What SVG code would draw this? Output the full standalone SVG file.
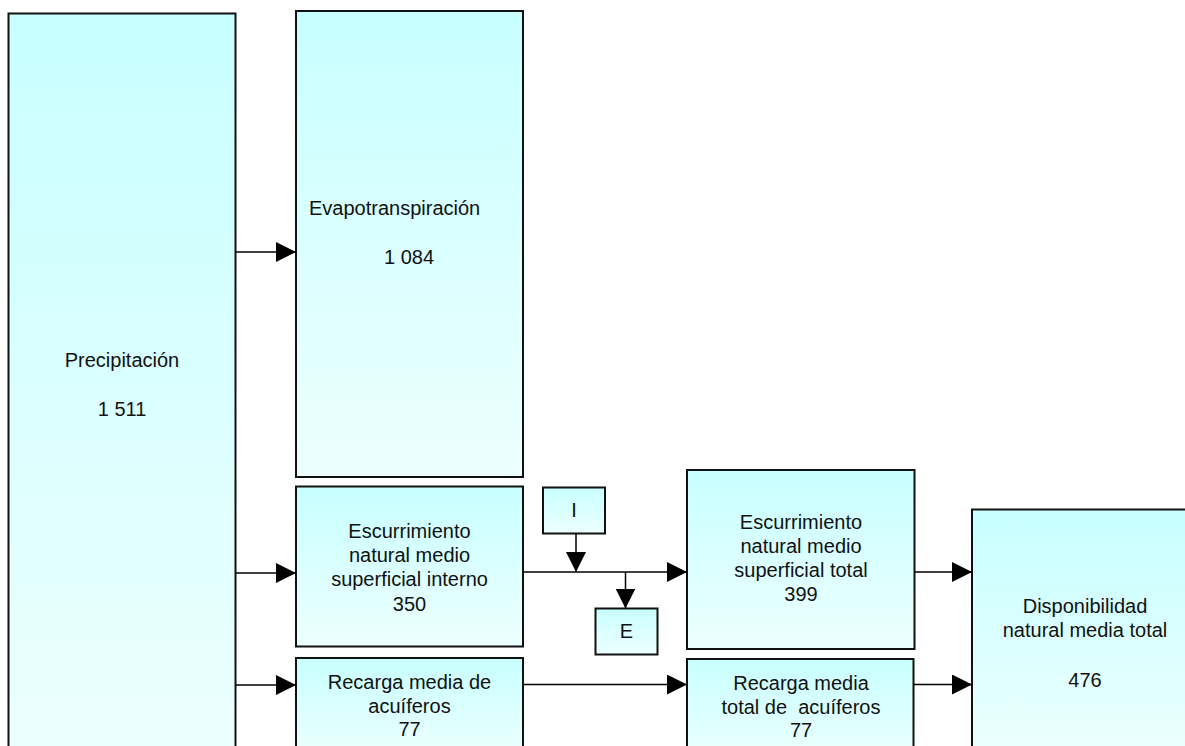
<svg xmlns="http://www.w3.org/2000/svg" width="1185" height="746" viewBox="0 0 1185 746">
<style>
.box{fill:url(#g);stroke:#111;stroke-width:2}
text{font-family:"Liberation Sans",Arial,sans-serif;font-size:20px;fill:#111;text-anchor:middle}
.c{stroke:#000;stroke-width:1.5;fill:none}
</style>
<defs>
<linearGradient id="g" x1="0" y1="0" x2="0" y2="1">
<stop offset="0" stop-color="#c8ffff"/>
<stop offset="1" stop-color="#edffff"/>
</linearGradient>
<marker id="a" markerUnits="userSpaceOnUse" markerWidth="20" markerHeight="20" refX="20" refY="10" orient="auto" viewBox="0 0 20 20">
<path d="M0,0 L20,10 L0,20 z" fill="#000"/>
</marker>
</defs>
<g id="precipitacion">
<rect class="box" x="8.5" y="13.5" width="227" height="745"/>
<text x="122" y="367">Precipitación</text>
<text x="122" y="416">1 511</text>
</g>
<g id="evapotranspiracion">
<rect class="box" x="296" y="11" width="227" height="466"/>
<text x="309" y="215" style="text-anchor:start">Evapotranspiración</text>
<text x="409" y="264">1 084</text>
</g>
<g id="esc-interno">
<rect class="box" x="296" y="486.5" width="227" height="160"/>
<text x="409.5" y="538">Escurrimiento</text>
<text x="409.5" y="562">natural medio</text>
<text x="409.5" y="586">superficial interno</text>
<text x="409.5" y="611">350</text>
</g>
<g id="recarga-media">
<rect class="box" x="296" y="658" width="227" height="100"/>
<text x="409.5" y="689">Recarga media de</text>
<text x="409.5" y="713">acuíferos</text>
<text x="409.5" y="736">77</text>
</g>
<g id="I">
<rect class="box" x="543" y="487.5" width="62" height="46"/>
<text x="574" y="517">I</text>
</g>
<g id="E">
<rect class="box" x="595.5" y="608.5" width="62" height="46"/>
<text x="626.5" y="638">E</text>
</g>
<g id="esc-total">
<rect class="box" x="687" y="470" width="227.5" height="179"/>
<text x="801" y="529">Escurrimiento</text>
<text x="801" y="553">natural medio</text>
<text x="801" y="577">superficial total</text>
<text x="801" y="601">399</text>
</g>
<g id="recarga-total">
<rect class="box" x="687" y="659" width="226.5" height="100"/>
<text x="801" y="690">Recarga media</text>
<text x="801" y="714" xml:space="preserve">total de  acuíferos</text>
<text x="801" y="737">77</text>
</g>
<g id="disponibilidad">
<rect class="box" x="972" y="509.5" width="226" height="250"/>
<text x="1085" y="613">Disponibilidad</text>
<text x="1085" y="637">natural media total</text>
<text x="1085" y="687">476</text>
</g>
<g id="connectors">
<line class="c" x1="236" y1="252" x2="296" y2="252" marker-end="url(#a)"/>
<line class="c" x1="236" y1="573" x2="296" y2="573" marker-end="url(#a)"/>
<line class="c" x1="236" y1="685" x2="296" y2="685" marker-end="url(#a)"/>
<line class="c" x1="523" y1="572" x2="687" y2="572" marker-end="url(#a)"/>
<line class="c" x1="576" y1="533.5" x2="576" y2="572" marker-end="url(#a)"/>
<line class="c" x1="625.5" y1="572" x2="625.5" y2="608.5" marker-end="url(#a)"/>
<line class="c" x1="523" y1="684.5" x2="687" y2="684.5" marker-end="url(#a)"/>
<line class="c" x1="914.5" y1="572" x2="972" y2="572" marker-end="url(#a)"/>
<line class="c" x1="913.5" y1="684.5" x2="972" y2="684.5" marker-end="url(#a)"/>
</g>
</svg>
